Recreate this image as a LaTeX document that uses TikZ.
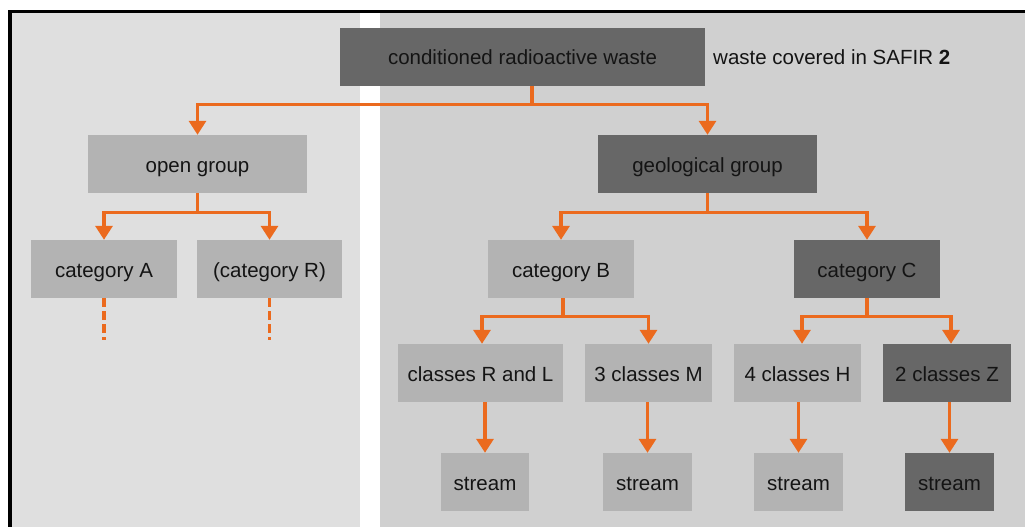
\documentclass[tikz,border=0pt]{standalone}
\usepackage{fontspec}
\setmainfont{Liberation Sans}
\usetikzlibrary{arrows.meta}
\definecolor{darkbox}{HTML}{676767}
\definecolor{lightbox}{HTML}{B3B3B3}
\definecolor{leftpanel}{HTML}{DFDFDF}
\definecolor{rightpanel}{HTML}{D0D0D0}
\definecolor{orangeline}{HTML}{EB6A1E}
\definecolor{txt}{HTML}{141414}
\begin{document}
\begin{tikzpicture}[x=1pt,y=-1pt,
  every node/.style={font=\fontsize{20.5}{24}\selectfont, text=txt, inner sep=0pt, text height=20pt, text depth=4pt},
  boxbase/.style={minimum height=58pt, anchor=center},
  darkb/.style={boxbase, fill=darkbox},
  lightb/.style={boxbase, fill=lightbox},
  arr/.style={draw=orangeline, line width=3.3pt, -{Triangle[width=17pt,length=14pt]}},
  dashline/.style={draw=orangeline, line width=3.3pt, dash pattern=on 9pt off 4pt}]
\useasboundingbox (0,0) rectangle (1025,527);
% background
\fill[white] (0,0) rectangle (1025,527);
\fill[leftpanel] (12,13) rectangle (360,527);
\fill[rightpanel] (380,13) rectangle (1025,527);
\fill[black] (8,10) rectangle (12,527);
\fill[black] (8,10) rectangle (1025,13);
% nodes
\node[darkb, minimum width=365pt] (top) at (522.5,57) {conditioned radioactive waste};
\node[anchor=west] (lbl) at (713,57) {waste covered in SAFIR \textbf{2}};
\node[lightb, minimum width=219pt] (open) at (197.5,164) {open group};
\node[darkb, minimum width=219pt] (geol) at (707.5,164) {geological group};
\node[lightb, minimum width=146pt] (catA) at (104,269) {category A};
\node[lightb, minimum width=145pt] (catR) at (269.5,269) {(category R)};
\node[lightb, minimum width=146pt] (catB) at (561,269) {category B};
\node[darkb, minimum width=146pt] (catC) at (867,269) {category C};
\node[lightb, minimum width=165pt] (clRL) at (480.5,373) {classes R and L};
\node[lightb, minimum width=127pt] (clM) at (648.5,373) {3 classes M};
\node[lightb, minimum width=127pt] (clH) at (797.5,373) {4 classes H};
\node[darkb, minimum width=128pt] (clZ) at (947,373) {2 classes Z};
\node[lightb, minimum width=88pt] (s1) at (485,482) {stream};
\node[lightb, minimum width=89pt] (s2) at (647.5,482) {stream};
\node[lightb, minimum width=89pt] (s3) at (798.5,482) {stream};
\node[darkb, minimum width=89pt] (s4) at (949.5,482) {stream};
% connectors
\draw[arr] ([xshift=9.5pt]top.south) -- ++(0,18) -| (open.north);
\draw[arr] ([xshift=9.5pt]top.south) -- ++(0,18) -| (geol.north);
\draw[arr] (open.south) -- ++(0,19) -| (catA.north);
\draw[arr] (open.south) -- ++(0,19) -| (catR.north);
\draw[arr] (geol.south) -- ++(0,19) -| (catB.north);
\draw[arr] (geol.south) -- ++(0,19) -| (catC.north);
\draw[arr] ([xshift=2pt]catB.south) -- ++(0,18) -| ([xshift=1.5pt]clRL.north);
\draw[arr] ([xshift=2pt]catB.south) -- ++(0,18) -| (clM.north);
\draw[arr] (catC.south) -- ++(0,18) -| ([xshift=4.5pt]clH.north);
\draw[arr] (catC.south) -- ++(0,18) -| ([xshift=4pt]clZ.north);
\draw[arr] (s1.north |- clRL.south) -- (s1.north);
\draw[arr] (s2.north |- clM.south) -- (s2.north);
\draw[arr] (s3.north |- clH.south) -- (s3.north);
\draw[arr] (s4.north |- clZ.south) -- (s4.north);
\coordinate (dA) at (104,340);
\coordinate (dR) at (269.5,340);
\draw[dashline] (catA.south) -- (dA);
\draw[dashline] (catR.south) -- (dR);
\end{tikzpicture}
\end{document}
